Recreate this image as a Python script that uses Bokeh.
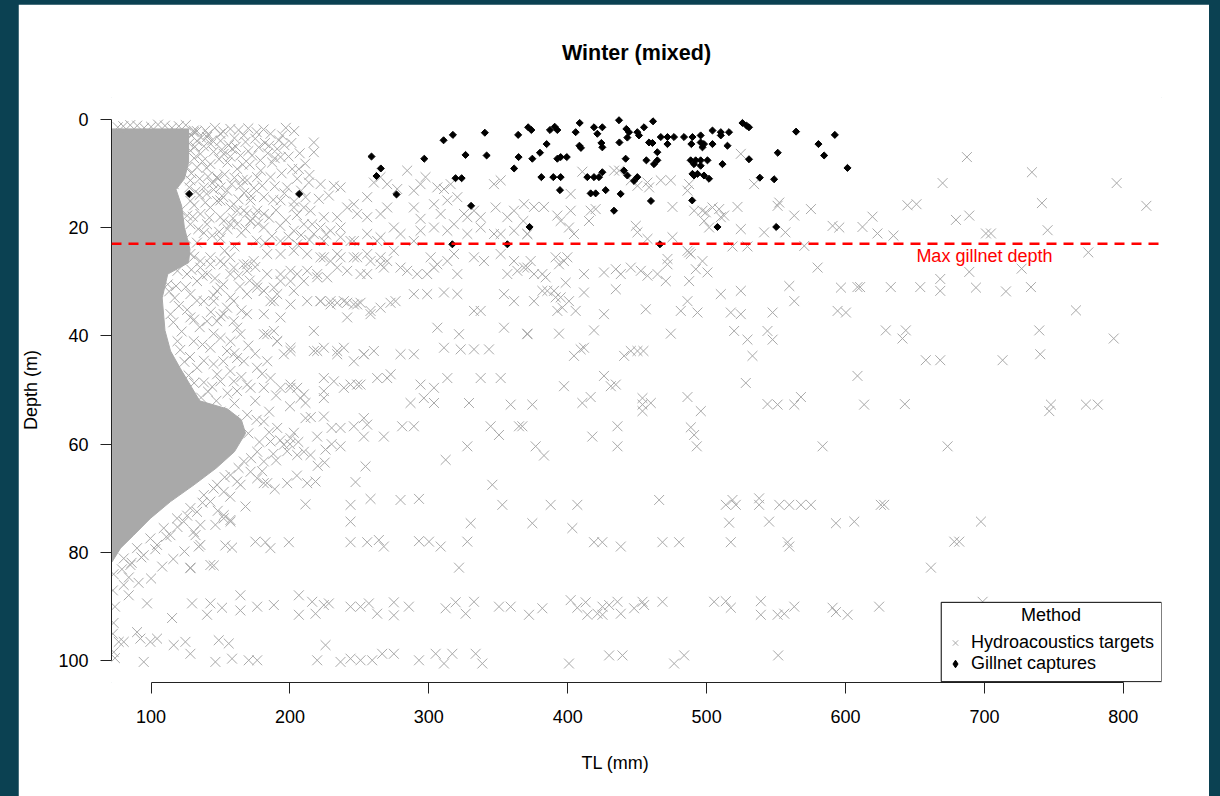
from bokeh.plotting import figure
from bokeh.models import (Range1d, FixedTicker, Span, Label, Legend, LegendItem,
                          BoxAnnotation, GlobalInlineStyleSheet, Title)
from bokeh.embed import file_html
from bokeh.resources import INLINE

FONT = "Liberation Sans"

title_text = "Winter (mixed)"
x_label = "TL (mm)"
y_label = "Depth (m)"
x_ticks = [100, 200, 300, 400, 500, 600, 700, 800]
y_ticks = [0, 20, 40, 60, 80, 100]
max_gillnet_depth = 23
legend_title = "Method"
legend_labels = ["Hydroacoustics targets", "Gillnet captures"]

# Gillnet captures (TL mm, depth m)
gill_tl = [127.4, 206.6, 258.7, 265.4, 262.3, 276.7, 296.7, 310.6, 317.3, 326.4,
           340.3, 341.6, 364.3, 364.6, 361.4, 319.2, 323.6, 330.4, 316.9, 356.5,
           372.5, 371.5, 373.8, 380.0, 384.8, 387.2, 390.6, 392.5, 374.5, 381.0,
           389.6, 394.9, 392.5, 394.9, 394.4, 405.7, 408.6, 408.4, 409.5, 418.9,
           421.3, 424.9, 424.2, 424.9, 414.1, 418.9, 422.5, 424.9, 416.5, 420.1,
           427.3, 436.9, 442.2, 444.1, 450.1, 451.3, 454.9, 461.4, 437.2, 442.9,
           441.7, 440.5, 442.9, 447.7, 450.1, 438.1, 433.3, 459.9, 456.6, 462.1,
           464.5, 464.5, 458.5, 461.0, 467.0, 471.8, 476.5, 471.8, 483.7, 489.8,
           495.7, 489.0, 495.7, 498.1, 497.0, 504.2, 510.2, 516.1, 510.2, 504.2,
           515.0, 488.5, 492.1, 495.7, 500.6, 490.9, 495.7, 489.8, 493.4, 498.1,
           501.7, 490.9, 511.4, 489.6, 525.8, 530.5, 528.8, 530.5, 507.8, 538.3,
           548.6, 551.2, 550.1, 466.4, 564.4, 580.5, 584.6, 592.3, 601.4, 399.3]
gill_depth = [13.8, 13.8, 6.9, 9.1, 10.5, 13.9, 7.3, 3.9, 2.9, 6.6,
              2.5, 6.7, 2.9, 7.0, 9.1, 10.9, 10.9, 16.0, 23.1, 23.1,
              19.9, 1.5, 2.0, 6.2, 4.6, 2.0, 1.4, 2.0, 7.3, 10.7,
              10.7, 10.7, 7.3, 7.0, 13.1, 2.4, 0.7, 4.9, 5.3, 1.5,
              2.7, 1.5, 4.4, 5.2, 10.7, 10.7, 10.7, 9.8, 13.7, 13.7,
              13.1, 0.2, 1.8, 2.4, 2.4, 3.0, 1.5, 0.4, 4.3, 3.4,
              7.3, 9.5, 10.4, 11.4, 10.7, 13.8, 16.9, 15.1, 7.6, 8.3,
              7.6, 6.1, 4.3, 4.4, 3.3, 3.3, 3.3, 4.6, 3.3, 3.3,
              3.0, 4.6, 4.3, 4.6, 5.2, 2.1, 2.4, 2.4, 3.0, 4.6,
              4.9, 7.6, 7.6, 7.6, 7.6, 8.3, 8.6, 10.1, 10.1, 10.4,
              11.0, 10.4, 8.3, 15.0, 0.7, 1.5, 1.2, 7.4, 19.9, 10.8,
              11.1, 6.2, 19.9, 23.1, 2.3, 4.6, 6.7, 2.9, 9.0, 7.0]

# Dense core of hydroacoustic targets (outline of the saturated grey mass, TL mm / depth m)
core_tl = [72, 127, 127, 124, 118, 122, 124, 128, 127, 112, 108, 110, 114, 121, 128, 135,
           155, 165, 168, 160, 147, 131, 114, 99.5, 87.5, 78, 72]
core_depth = [1.8, 1.8, 8, 11, 13, 16, 20, 24, 26.5, 28.6, 33, 39, 42.8, 46, 49, 52,
              53.5, 55.5, 58, 61.4, 64.4, 67.5, 70.6, 73.7, 76.8, 79.2, 81.7]

# Hydroacoustic targets (TL mm, depth m), by region of the chart
hydro_far_right = [
    (687.4, 7.0), (734.2, 9.8), (669.9, 11.8), (795.2, 11.8), (644.6, 15.9), (651.1, 15.7),
    (741.4, 15.5), (816.6, 16.0), (619.4, 18.0), (612.2, 19.9), (679.5, 18.6), (689.1, 17.8),
    (623.0, 21.1), (634.5, 21.5), (701.1, 21.1), (704.7, 21.1), (745.5, 20.5), (774.8, 24.6),
    (689.1, 28.2), (726.8, 27.6), (608.6, 31.0), (610.5, 31.0), (632.6, 31.0), (653.8, 31.0),
    (668.2, 29.5), (668.2, 31.7), (693.9, 31.1), (715.5, 31.8), (733.5, 31.0), (765.9, 35.3),
    (629.0, 39.0), (643.4, 39.0), (641.0, 40.5), (739.5, 39.0), (793.1, 40.5), (657.8, 44.5),
    (668.2, 44.5), (713.1, 44.5), (740.2, 43.4), (608.6, 47.4), (613.4, 52.7), (642.7, 52.6),
    (747.9, 52.7), (746.7, 53.9), (773.1, 52.7), (781.6, 52.7), (673.5, 60.4), (625.4, 71.2),
    (627.8, 71.2), (697.5, 74.3), (678.3, 78.0), (681.9, 78.0), (661.5, 82.8),
    (624.2, 90.0), (698.7, 89.1)]

hydro_mid_upper = [
    (410.5, 9.7), (433.4, 9.5), (437.0, 9.5), (445.4, 11.3), (450.2, 12.3), (457.4, 11.7),
    (467.0, 11.3), (474.2, 11.3), (487.4, 12.0), (486.2, 13.2), (458.6, 12.6), (524.6, 6.4),
    (534.2, 12.0), (402.1, 13.8), (375.7, 16.2), (382.9, 16.2), (402.1, 16.9), (392.5, 17.8),
    (394.9, 18.8), (416.5, 16.9), (420.1, 16.6), (415.3, 18.8), (404.5, 21.2), (400.9, 20.0),
    (368.0, 18.8), (370.9, 21.2), (449.0, 19.7), (450.2, 20.9), (457.4, 22.1), (475.4, 21.8),
    (475.4, 16.2), (491.0, 16.9), (497.0, 16.9), (499.4, 17.2), (504.2, 16.3), (509.0, 16.6),
    (512.6, 17.8), (501.8, 20.0), (498.2, 18.8), (510.2, 18.1), (522.2, 16.2), (524.6, 20.3),
    (541.4, 20.9), (556.7, 20.9), (551.1, 16.0), (552.3, 15.4), (563.1, 17.8), (575.1, 16.6),
    (590.7, 19.7), (595.5, 20.0), (518.6, 23.5), (529.4, 23.5), (570.3, 23.4), (486.2, 24.3),
    (488.6, 24.9)]

hydro_mid_middle = [
    (373.3, 26.2), (368.5, 27.4), (375.7, 28.6), (381.7, 28.6), (384.1, 29.2), (391.3, 25.5),
    (393.7, 26.8), (397.3, 26.2), (399.7, 25.5), (398.5, 30.2), (411.7, 28.6), (411.7, 32.0),
    (385.3, 31.7), (390.1, 31.7), (391.3, 32.9), (394.9, 32.9), (400.9, 33.6), (392.5, 35.4),
    (396.1, 34.8), (381.7, 31.7), (375.7, 33.6), (405.7, 35.4), (426.1, 36.0), (426.1, 28.3),
    (434.6, 27.7), (438.2, 28.6), (445.4, 27.4), (434.6, 31.4), (452.6, 28.0), (457.4, 28.9),
    (464.6, 28.6), (470.6, 29.9), (471.8, 26.8), (471.8, 25.8), (487.4, 24.6), (492.2, 27.7),
    (497.0, 26.2), (500.6, 28.3), (487.4, 29.9), (486.2, 33.6), (481.4, 35.4), (493.4, 35.7),
    (456.2, 35.1), (510.2, 32.3), (524.6, 31.7), (517.4, 35.7), (524.6, 36.0), (519.8, 39.1),
    (529.4, 40.7), (543.8, 39.1), (547.5, 40.7), (547.5, 35.7), (559.5, 30.8), (563.1, 33.6),
    (579.9, 27.4), (596.7, 31.1), (594.3, 35.4), (600.3, 35.7), (370.9, 39.6), (393.7, 39.6),
    (418.9, 39.0), (474.2, 39.6), (404.5, 43.7), (409.3, 42.5), (411.7, 42.2), (440.6, 43.7),
    (445.4, 42.8), (450.2, 42.8), (454.5, 42.8), (426.1, 47.4), (431.0, 49.3), (434.6, 49.0),
    (397.3, 49.3), (528.2, 48.7), (533.0, 43.7)]

hydro_mid_lower = [
    (374.5, 52.7), (410.5, 52.4), (416.5, 51.3), (453.8, 51.5), (453.8, 52.7), (453.8, 53.9),
    (459.8, 52.4), (486.2, 51.3), (495.8, 53.9), (543.8, 52.6), (551.1, 52.7), (563.1, 52.7),
    (567.9, 51.3), (367.3, 56.7), (417.7, 58.6), (435.8, 56.7), (435.8, 60.4), (488.6, 56.9),
    (491.0, 58.3), (492.9, 60.4), (376.9, 60.4), (382.9, 62.1), (583.5, 60.4), (387.7, 71.2),
    (406.9, 71.2), (465.8, 70.3), (513.8, 71.2), (518.6, 70.3), (521.0, 71.2), (537.8, 70.0),
    (537.8, 71.2), (552.3, 71.2), (559.5, 71.2), (567.9, 71.2), (575.1, 71.2), (374.5, 74.6),
    (403.3, 75.5), (516.2, 74.5), (545.0, 74.3), (593.1, 74.6), (606.3, 74.3), (418.9, 78.1),
    (424.9, 78.1), (438.2, 78.9), (468.2, 78.1), (480.2, 78.1), (517.4, 78.1), (558.3, 78.1),
    (559.5, 78.9), (372.1, 91.5), (381.7, 90.3), (402.1, 88.8), (412.9, 89.2), (406.9, 90.2),
    (414.1, 91.5), (421.4, 91.3), (425.0, 91.5), (425.0, 90.0), (429.8, 89.7), (435.8, 89.1),
    (438.2, 91.3), (447.8, 90.3), (453.8, 89.1), (455.0, 89.7), (468.2, 89.1), (505.4, 89.1),
    (513.8, 89.0), (517.4, 90.2), (539.0, 89.0), (539.0, 91.5), (551.1, 91.5), (555.9, 91.3),
    (563.1, 90.0), (590.7, 90.2), (593.1, 91.0), (601.5, 91.5), (400.9, 100.5), (429.8, 99.0),
    (439.4, 99.0), (476.6, 100.5), (483.8, 99.0), (551.5, 99.0)]

hydro_left_lower = [
    (207.6, 51.5), (224.4, 51.5), (211.2, 52.4), (286.8, 52.4), (296.4, 51.5), (303.7, 52.4),
    (328.9, 52.4), (358.9, 52.7), (211.2, 55.2), (224.4, 54.9), (219.6, 58.6), (225.6, 61.0),
    (202.8, 57.9), (236.4, 57.0), (246.0, 56.7), (253.2, 55.2), (255.6, 56.4), (253.2, 58.6),
    (267.6, 58.6), (280.8, 56.7), (289.2, 56.7), (236.4, 60.4), (327.7, 60.4), (344.5, 56.7),
    (350.5, 58.3), (364.9, 56.7), (254.4, 64.1), (312.1, 62.9), (181.1, 67.2), (183.6, 67.2),
    (198.0, 67.2), (212.4, 67.2), (218.4, 66.9), (247.2, 67.0), (211.2, 71.1), (243.6, 71.2),
    (258.0, 70.1), (279.6, 70.3), (292.9, 70.1), (345.7, 67.5), (352.9, 71.2), (243.6, 74.3),
    (330.1, 74.6), (152.3, 73.1), (157.1, 74.0), (146.3, 74.9), (135.5, 74.9), (130.7, 76.2),
    (153.5, 78.7), (158.3, 79.1), (175.1, 78.0), (182.3, 78.1), (185.9, 79.2), (199.2, 78.1),
    (243.6, 78.1), (255.6, 78.1), (264.0, 77.7), (267.6, 78.9), (292.9, 77.9), (300.1, 78.0),
    (308.5, 78.9), (327.7, 78.0), (134.3, 78.9), (128.3, 82.8), (145.1, 82.4), (321.7, 82.8),
    (129.5, 89.4), (142.7, 89.4), (151.1, 90.2), (140.3, 91.5), (164.3, 87.9), (164.3, 90.7),
    (176.4, 90.0), (188.4, 89.7), (206.4, 87.9), (206.4, 91.5), (216.0, 89.1), (218.4, 91.3),
    (224.4, 89.7), (228.0, 89.4), (243.6, 90.0), (250.8, 90.0), (256.8, 89.4), (262.8, 91.3),
    (274.8, 89.2), (274.8, 91.6), (285.6, 90.0), (312.1, 90.3), (319.3, 89.2), (326.5, 91.3),
    (332.5, 89.1), (350.5, 90.0), (358.9, 90.0), (124.7, 96.5), (128.3, 98.7), (148.7, 96.2),
    (155.9, 96.8), (146.3, 100.2), (158.3, 99.6), (170.3, 99.9), (176.4, 99.9), (225.6, 97.1),
    (219.6, 99.9), (236.4, 100.2), (243.6, 99.6), (250.8, 99.9), (259.2, 99.9), (266.4, 98.7),
    (274.8, 98.7), (292.9, 99.9), (304.9, 98.7), (310.9, 100.5), (316.9, 98.7), (333.7, 98.7),
    (338.5, 100.5),
    (80.3, 86.0), (83.9, 87.9), (97.1, 89.4), (115.1, 92.1), (76.7, 96.5), (80.3, 96.5),
    (89.9, 94.7), (92.3, 95.9), (99.5, 96.5), (104.3, 95.9), (116.3, 97.1), (94.7, 100.2),
    (73.1, 98.4), (73.0, 84.0), (72.5, 87.0), (74.0, 90.0), (73.0, 93.0), (72.5, 95.0),
    (74.0, 99.5)]

hydro_left_upper = [
    (130.7, 2.4), (139.1, 2.1), (149.9, 2.7), (157.1, 1.8), (166.7, 3.0), (186.0, 2.7),
    (194.4, 3.0), (217.2, 4.3), (217.2, 6.1), (177.5, 5.2), (190.8, 5.5), (158.3, 5.5),
    (152.3, 6.4), (164.3, 6.7), (172.7, 6.7), (178.7, 7.6), (187.2, 8.0), (193.2, 7.0),
    (201.6, 9.2), (206.4, 9.2), (205.2, 11.0), (213.6, 11.7), (222.0, 12.0), (231.6, 12.3),
    (236.4, 12.6), (228.0, 14.1), (220.8, 14.7), (211.2, 14.4), (198.0, 12.6), (186.0, 10.7),
    (176.3, 10.7), (169.1, 11.3), (164.3, 12.3), (154.7, 13.2), (149.9, 15.0), (159.5, 15.7),
    (171.5, 15.0), (181.2, 14.4), (193.2, 15.0), (202.8, 16.3), (210.0, 16.3), (214.8, 16.9),
    (224.4, 18.1), (234.0, 18.1), (241.2, 16.3), (246.0, 15.7), (255.6, 14.4), (260.4, 11.7),
    (265.2, 10.7), (270.0, 12.0), (277.2, 12.9), (284.4, 9.5), (289.2, 13.2), (294.0, 12.0),
    (297.6, 10.7), (294.0, 18.4), (289.2, 16.3), (303.7, 15.7), (308.5, 17.5), (313.3, 15.0),
    (320.5, 14.4), (325.3, 17.5), (327.7, 18.1), (332.5, 16.9), (337.3, 18.1), (346.9, 12.0),
    (351.7, 11.3), (348.1, 16.3), (356.5, 18.1), (361.3, 16.9), (368.5, 15.7), (306.1, 12.6),
    (310.9, 12.9), (315.7, 12.0), (270.0, 16.3), (265.2, 17.5), (255.6, 18.1), (248.4, 17.5),
    (236.4, 20.0), (229.2, 20.6), (222.0, 20.0), (217.2, 21.2), (210.0, 19.4), (202.8, 20.6),
    (193.2, 22.5), (181.2, 20.0), (171.5, 18.8), (161.9, 16.9), (157.1, 19.4), (149.9, 18.1),
    (236.4, 21.8), (246.0, 22.5), (255.6, 21.2), (265.2, 21.8), (274.8, 20.0), (279.6, 21.2),
    (289.2, 22.5), (294.0, 20.6), (303.7, 20.0), (313.3, 20.6), (318.1, 19.4), (327.7, 21.2),
    (337.3, 20.0), (346.9, 21.2), (351.7, 21.2), (361.3, 20.6), (370.9, 21.2),
    (130.7, 2.1), (140.3, 3.3), (128.3, 5.8), (135.5, 6.4), (133.1, 8.9), (142.7, 8.3),
    (147.5, 10.7), (128.3, 11.3), (137.9, 12.6), (147.5, 15.1), (157.1, 16.3), (166.8, 16.9),
    (176.4, 16.9), (181.2, 17.5), (142.7, 16.3), (135.5, 17.5), (128.3, 19.4), (140.3, 19.4),
    (152.3, 18.8), (161.9, 19.4), (171.6, 18.8), (128.3, 15.1), (121.1, 16.9), (116.3, 12.0),
    (111.5, 10.1), (118.7, 7.6), (125.9, 8.9),
    (80.0, 1.3), (90.0, 1.2), (100.0, 1.4), (110.0, 1.2), (120.0, 1.3), (133.0, 4.0),
    (138.0, 5.0), (145.0, 6.0), (150.0, 4.0), (155.0, 8.0), (160.0, 3.5), (140.0, 9.0),
    (148.0, 11.0), (135.0, 14.0), (145.0, 13.0), (130.0, 18.0), (138.0, 21.0), (150.0, 22.0),
    (160.0, 23.5), (125.0, 22.0),
    (76.0, 1.5), (85.0, 1.1), (95.0, 1.6), (105.0, 1.0), (115.0, 1.6), (125.0, 1.1),
    (129.0, 3.0), (133.0, 2.2), (141.0, 2.8), (146.0, 1.6), (152.0, 2.3), (163.0, 2.0),
    (170.0, 1.7), (176.0, 2.4), (181.0, 1.9), (197.0, 1.6), (203.0, 2.2), (131.0, 7.2),
    (137.0, 7.8), (143.0, 4.6), (149.0, 7.4), (156.0, 4.8), (162.0, 9.2), (168.0, 4.2),
    (171.0, 8.4), (182.0, 4.4), (184.0, 6.3), (196.0, 4.8), (199.0, 6.9), (129.0, 10.0),
    (135.0, 11.0), (141.0, 10.6), (153.0, 10.2), (158.0, 12.0), (167.0, 13.6), (174.0, 12.7),
    (179.0, 9.5), (189.0, 12.4), (194.0, 10.0), (208.0, 13.2), (131.0, 15.9), (139.0, 15.4),
    (152.0, 14.4), (163.0, 14.8), (169.0, 17.4), (177.0, 19.3), (185.0, 18.2), (190.0, 16.8),
    (197.0, 18.6), (205.0, 17.7), (187.0, 21.6), (176.0, 22.4), (165.0, 21.0), (144.0, 21.5),
    (133.0, 22.8), (155.0, 20.3), (199.0, 21.7), (214.0, 22.3),
    (127.5, 4.5), (131.5, 5.1), (136.0, 3.4), (144.0, 3.9), (151.0, 5.6), (157.0, 6.9),
    (161.0, 5.1), (166.0, 8.4), (170.0, 5.9), (175.0, 3.6), (185.0, 4.9), (189.0, 7.2),
    (192.0, 3.9), (201.0, 4.4), (207.0, 6.3), (211.0, 8.2), (214.0, 10.3), (127.5, 12.6),
    (132.0, 13.4), (140.0, 13.8), (144.0, 11.8), (150.0, 12.6), (160.0, 10.8), (166.0, 11.2),
    (172.0, 14.2), (180.0, 12.3), (188.0, 14.9), (196.0, 13.7), (203.0, 15.2), (216.0, 19.4),
    (126.0, 17.8), (134.0, 20.3), (142.0, 18.2), (149.0, 20.8), (159.0, 18.3), (168.0, 20.2),
    (175.0, 17.8), (182.0, 22.8), (193.0, 19.7), (208.0, 21.4), (226.0, 21.3)]

hydro_left_middle = [
    (274.8, 24.3), (265.2, 25.5), (255.6, 24.9), (246.0, 25.5), (236.4, 25.5), (229.2, 26.2),
    (222.0, 25.5), (212.4, 24.9), (202.8, 24.3), (193.2, 24.9), (183.6, 24.9), (173.9, 26.2),
    (166.7, 26.8), (157.1, 25.5), (149.9, 26.2), (142.7, 26.8), (135.5, 27.4), (157.1, 28.6),
    (169.1, 28.0), (183.6, 28.6), (193.2, 28.6), (205.2, 28.6), (212.4, 28.0), (219.6, 29.2),
    (226.8, 29.2), (234.0, 27.4), (241.2, 28.0), (250.8, 28.6), (255.6, 28.6), (265.2, 26.8),
    (270.0, 26.2), (279.6, 27.4), (284.4, 28.0), (291.6, 28.6), (298.8, 28.6), (303.7, 27.4),
    (313.3, 26.2), (318.1, 24.9), (332.5, 25.5), (339.7, 26.2), (351.7, 24.9), (361.3, 26.2),
    (370.9, 27.4), (356.5, 28.6), (363.7, 28.0), (301.3, 25.5), (306.1, 26.8), (320.5, 28.6),
    (289.2, 32.3), (298.8, 32.3), (310.9, 32.0), (320.5, 32.3), (276.0, 33.6), (272.4, 33.9),
    (258.0, 36.0), (241.2, 36.6), (250.8, 33.9), (246.0, 34.2), (241.2, 33.9), (234.0, 33.9),
    (229.2, 34.2), (222.0, 33.6), (212.4, 33.6), (202.8, 31.7), (200.4, 29.9), (193.2, 29.9),
    (188.4, 31.1), (181.2, 31.7), (176.3, 30.5), (169.1, 32.3), (159.5, 33.6), (154.7, 34.8),
    (145.1, 33.6), (149.9, 31.1), (147.5, 37.3), (159.5, 37.3), (169.1, 36.0), (181.2, 36.0),
    (193.2, 36.6), (200.4, 34.2), (188.4, 39.1), (183.6, 39.7), (190.8, 41.0), (200.4, 42.2),
    (195.6, 43.4), (183.6, 44.7), (176.3, 45.9), (164.3, 39.7), (154.7, 42.8), (161.9, 44.1),
    (157.1, 46.5), (149.9, 48.4), (169.1, 49.0), (181.2, 49.6), (193.2, 49.6), (200.4, 49.0),
    (205.2, 49.6), (217.2, 39.1), (217.2, 42.8), (224.4, 42.2), (234.0, 42.8), (238.8, 42.2),
    (246.0, 44.7), (253.2, 43.4), (260.4, 42.8), (270.0, 47.8), (279.6, 43.4), (289.2, 43.4),
    (306.1, 38.5), (321.7, 39.7), (310.9, 42.2), (322.9, 42.5), (332.5, 42.5), (343.3, 42.5),
    (313.3, 47.8), (337.3, 47.8), (351.7, 47.8), (354.1, 38.5), (370.9, 39.7), (354.1, 32.3),
    (361.3, 33.6), (332.5, 35.4), (337.3, 35.4), (294.0, 49.0), (303.7, 49.6), (224.4, 47.8),
    (231.6, 48.4), (243.6, 49.0), (250.8, 49.0), (161.9, 50.2),
    (128.3, 24.9), (135.5, 26.2), (142.7, 25.5), (125.9, 28.6), (133.1, 29.9), (140.3, 28.6),
    (152.3, 26.8), (159.6, 27.4), (169.2, 26.8), (128.3, 32.3), (138.0, 33.6), (147.5, 31.7),
    (157.2, 32.9), (176.4, 31.1), (181.2, 31.7), (188.4, 33.6), (128.3, 36.6), (140.3, 37.3),
    (152.3, 36.0), (162.0, 38.5), (130.7, 41.0), (142.7, 42.2), (157.2, 41.0), (166.8, 44.7),
    (133.1, 45.9), (147.5, 47.1), (159.6, 48.4), (171.6, 49.6), (186.0, 47.8), (200.4, 49.6),
    (210.0, 50.8), (224.4, 50.2), (238.8, 49.6), (248.4, 49.0), (181.2, 39.7), (190.8, 41.0),
    (200.4, 42.8), (219.6, 42.8), (234.0, 43.4), (253.2, 43.4), (262.8, 47.8), (272.5, 47.1),
    (186.0, 33.6), (190.8, 32.3), (222.0, 33.6), (229.2, 33.6), (238.8, 33.6), (248.4, 34.2),
    (258.0, 35.4), (265.2, 34.8), (200.4, 28.0), (210.0, 29.9), (219.6, 28.6), (224.4, 25.5),
    (234.0, 24.9), (248.4, 25.5), (258.0, 26.2), (267.6, 27.4), (205.2, 23.1), (224.4, 22.5),
    (243.6, 22.5), (262.8, 22.5),
    (129.0, 27.8), (137.0, 28.9), (146.0, 29.4), (152.0, 30.5), (164.0, 30.9), (171.0, 29.8),
    (118.0, 30.8), (120.0, 34.5), (126.0, 35.2), (133.0, 33.5), (143.0, 35.6), (150.0, 36.4),
    (165.0, 35.3), (116.0, 37.5), (122.0, 39.2), (135.0, 38.4), (145.0, 39.6), (150.0, 40.4),
    (170.0, 41.8), (121.0, 42.6), (128.0, 43.9), (137.0, 41.6), (145.0, 45.2), (152.0, 44.7),
    (160.0, 43.2), (175.0, 43.3), (127.0, 47.3), (138.0, 48.6), (141.0, 50.3), (155.0, 50.6),
    (165.0, 47.6), (180.0, 47.0), (147.0, 52.0), (160.0, 52.5),
    (112.0, 30.5), (117.0, 33.0), (114.0, 36.0), (119.0, 41.0), (124.0, 44.8), (131.0, 48.7),
    (136.0, 51.4), (150.0, 54.0), (160.0, 55.5), (113.0, 31.8), (125.0, 31.0), (131.0, 37.0),
    (138.0, 44.6), (144.0, 49.4), (119.0, 28.0), (131.0, 25.4), (153.0, 24.3), (163.0, 28.9),
    (175.0, 27.3), (145.0, 32.5)]

hydro_core_edge = [
    (169.2, 54.6), (181.2, 55.8), (190.8, 57.0), (200.4, 58.9), (210.0, 61.4), (186.0, 59.5),
    (176.4, 61.4), (166.8, 63.2), (157.2, 65.7), (147.5, 67.5), (138.0, 69.4), (128.3, 71.8),
    (118.7, 73.7), (109.1, 75.5), (99.5, 77.4), (89.9, 79.2), (80.3, 81.1), (195.6, 60.1),
    (205.2, 62.0), (214.8, 62.0), (181.2, 63.2), (171.6, 65.1), (162.0, 66.9), (152.3, 68.8),
    (142.7, 70.6), (133.1, 72.5), (123.5, 74.3), (113.9, 76.8), (104.3, 78.6), (94.7, 80.5),
    (85.1, 82.3), (152.3, 73.7), (157.2, 74.3), (135.5, 78.6), (128.3, 82.9), (142.7, 82.3),
    (164.4, 67.5), (176.4, 66.3), (190.0, 51.0), (200.0, 53.0), (215.0, 55.0), (230.0, 57.0),
    (185.0, 54.0), (175.0, 52.0), (200.0, 60.0), (190.0, 63.0), (180.0, 65.0), (220.0, 64.0),
    (230.0, 60.0), (170.0, 58.0),
    (176.0, 55.5), (185.0, 57.8), (178.0, 59.6), (193.0, 59.3), (206.0, 59.6), (198.0, 61.3),
    (188.0, 61.8), (172.0, 62.6), (163.0, 64.4), (153.0, 66.1), (145.0, 68.2), (157.0, 69.7),
    (137.0, 70.8), (148.0, 72.3), (126.0, 73.2), (119.0, 75.3), (111.0, 77.1), (103.0, 79.4),
    (93.0, 80.9), (86.0, 81.9), (79.0, 83.1), (132.0, 76.8), (124.0, 79.8), (116.0, 81.2),
    (108.0, 82.6), (100.0, 84.8), (91.0, 85.6), (84.0, 84.6), (168.0, 71.5), (189.0, 68.3),
    (205.0, 65.8), (225.0, 63.4)]

hydro_points = (hydro_far_right + hydro_mid_upper + hydro_mid_middle + hydro_mid_lower +
                hydro_left_lower + hydro_left_upper + hydro_left_middle + hydro_core_edge)
hydro_tl = [pt[0] for pt in hydro_points]
hydro_depth = [pt[1] for pt in hydro_points]

GREY = "#a9a9a9"

p = figure(frame_width=1050, frame_height=585,
           x_range=Range1d(71.5, 827.5), y_range=Range1d(104, -4),
           output_backend="svg", toolbar_location=None, tools="",
           min_border_left=93, min_border_right=48, min_border_top=93, min_border_bottom=114,
           background_fill_color="white", border_fill_color="white")
p.outline_line_color = "white"
p.outline_line_alpha = 1.0
p.outline_line_width = 1
p.grid.visible = False

p.title.text = title_text
p.title.align = "center"
p.title.text_font = FONT
p.title.text_font_size = "21.5px"
p.title.text_font_style = "bold"
p.title.text_color = "black"
p.title.standoff = 66

for ax in (p.xaxis[0], p.yaxis[0]):
    ax.axis_line_color = "#222222"
    ax.major_tick_line_color = "#222222"
    ax.axis_line_width = 1
    ax.major_tick_line_width = 1
    ax.major_tick_out = 11
    ax.major_tick_in = 0
    ax.minor_tick_out = 0
    ax.minor_tick_in = 0
    ax.major_label_text_font = FONT
    ax.major_label_text_font_size = "18px"
    ax.major_label_text_color = "black"
    ax.axis_label_text_font = FONT
    ax.axis_label_text_font_size = "18px"
    ax.axis_label_text_font_style = "normal"
    ax.axis_label_text_color = "black"
    ax.major_label_standoff = 12

p.xaxis[0].ticker = FixedTicker(ticks=x_ticks)
p.yaxis[0].ticker = FixedTicker(ticks=y_ticks)
p.xaxis[0].bounds = (x_ticks[0], x_ticks[-1])
p.yaxis[0].bounds = (y_ticks[0], y_ticks[-1])
p.yaxis[0].axis_label = y_label
p.xaxis[0].major_label_standoff = 16
p.yaxis[0].axis_label_standoff = 14

# x-axis title, placed below the tick labels (left-anchored so it sits where the original does)
p.add_layout(Title(text=x_label, align="left", offset=470, standoff=50,
                   text_font=FONT, text_font_size="18px", text_font_style="normal",
                   text_color="black"), "below")

p.patch(core_tl, core_depth, fill_color=GREY, line_color=GREY, line_width=1)
r_hydro = p.scatter(hydro_tl, hydro_depth, marker="x", size=14,
                    line_color=GREY, line_width=1)
p.scatter(gill_tl, gill_depth, marker="square", size=5, angle=0.785398,
          fill_color="black", line_color="black", line_width=1)
# hidden copy of the gillnet data, used only for the legend swatch
r_gill_key = p.scatter(gill_tl, gill_depth, marker="diamond", size=10,
                       fill_color="black", line_color="black", line_width=1,
                       visible=False)

p.add_layout(Span(location=max_gillnet_depth, dimension="width", line_color="red",
                  line_width=2.5, line_dash="10 7"))
p.add_layout(Label(x=700, y=max_gillnet_depth + 2.3, text="Max gillnet depth",
                   text_align="center", text_baseline="middle", text_color="red",
                   text_font=FONT, text_font_size="18px"))

p.add_layout(BoxAnnotation(left=668.9, right=827.5, top=89.2, bottom=103.85,
                           fill_color="white", fill_alpha=1.0,
                           line_color="black", line_width=1, line_alpha=1.0))
p.add_layout(Label(x=748, y=91.6, text=legend_title, text_align="center",
                   text_baseline="middle", text_font=FONT, text_font_size="18px",
                   text_color="black"))
legend = Legend(items=[LegendItem(label=legend_labels[0], renderers=[r_hydro]),
                       LegendItem(label=legend_labels[1], renderers=[r_gill_key])],
                location=(829, 3), padding=5, margin=0, spacing=0,
                glyph_height=19, glyph_width=20, label_height=19, label_standoff=6,
                background_fill_alpha=0, border_line_alpha=0,
                inactive_fill_alpha=0, click_policy="none",
                label_text_font=FONT, label_text_font_size="18px",
                label_text_color="black")
p.add_layout(legend)

p.stylesheets = [GlobalInlineStyleSheet(
    css="html, body { margin: 0; padding: 0; background-color: #0b4152; } "
        "body { padding: 4px 0 0 18px; overflow: hidden; }")]

open("out.html", "w").write(file_html(p, INLINE))
